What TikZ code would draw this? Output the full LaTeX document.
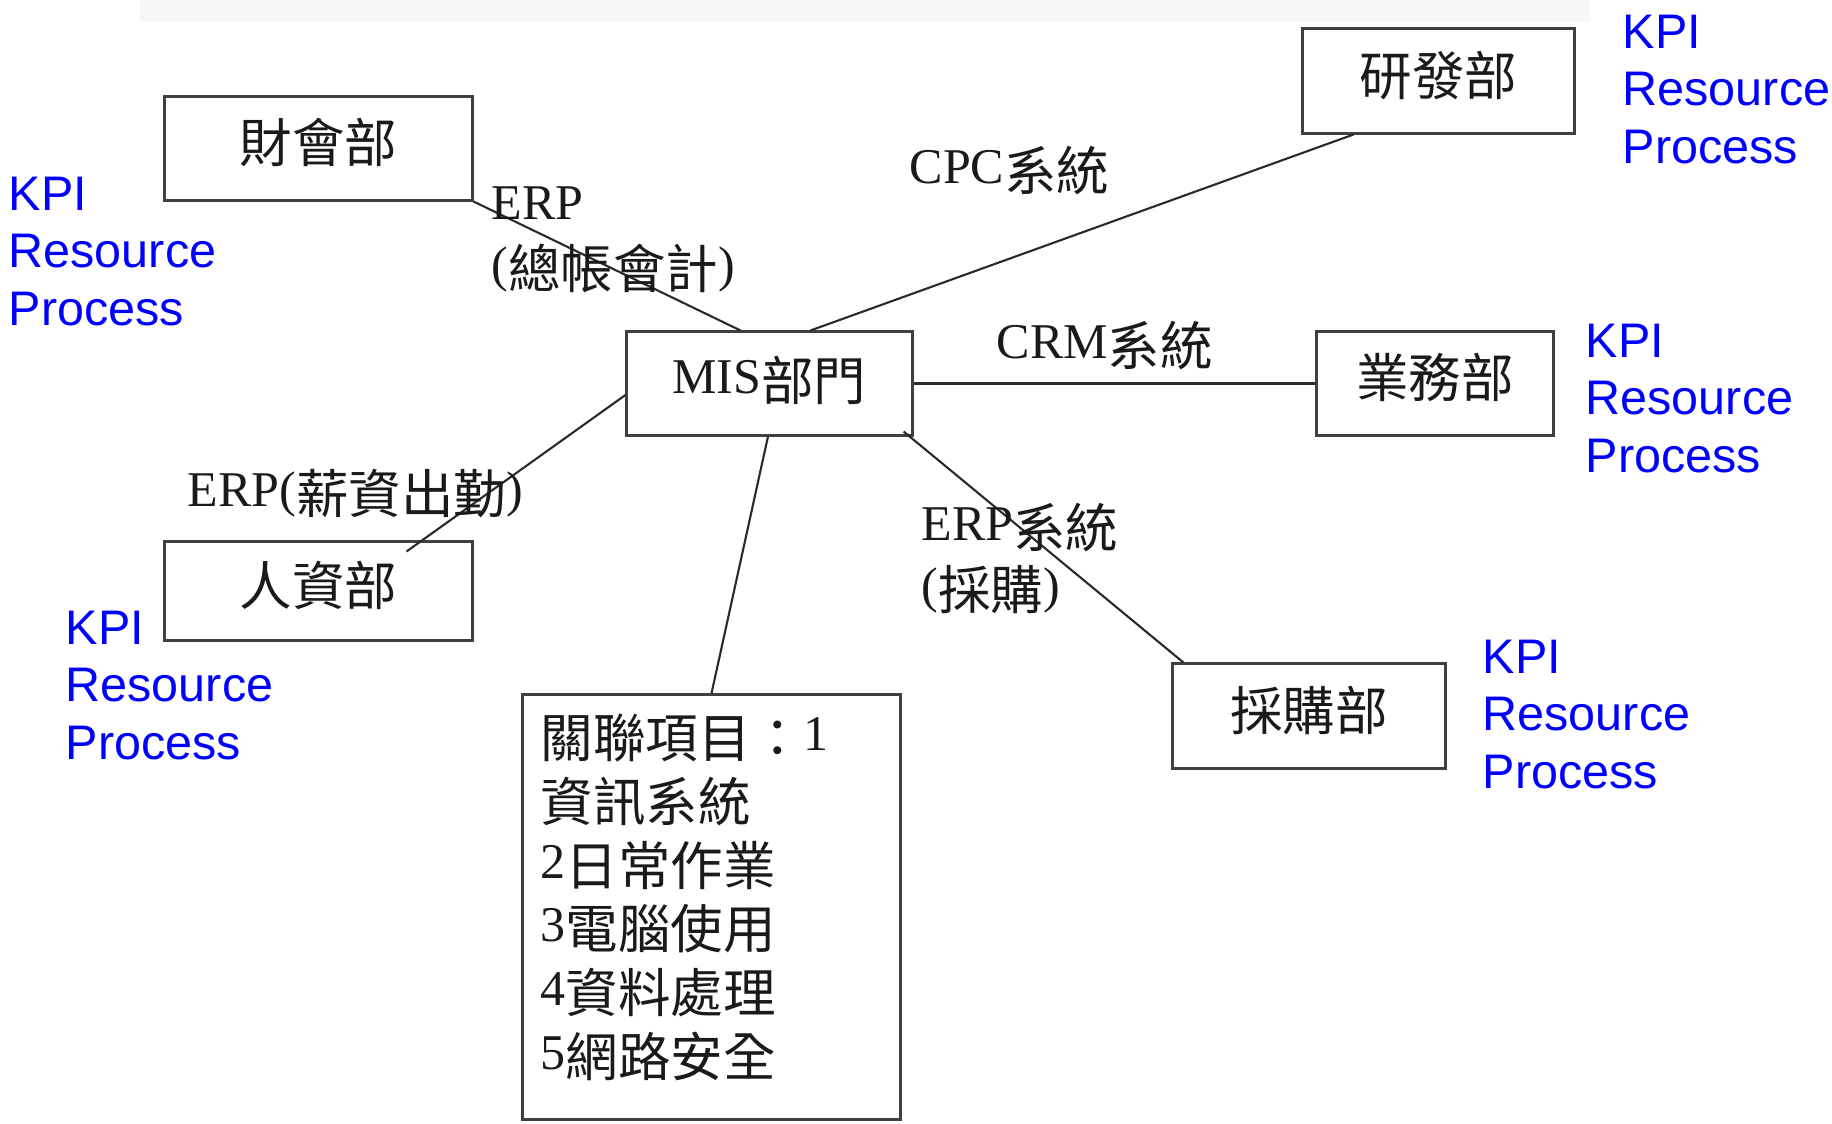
\documentclass[tikz,border=0pt]{standalone}
\usepackage{fontspec}
\setmainfont{Liberation Serif}
\setsansfont{Liberation Sans}
\newfontfamily\cjk{Noto Sans CJK TC}[Scale=1.05]
\newcommand\zh[1]{\raisebox{-0.07cm}{\cjk #1}}
\definecolor{txt}{HTML}{1A1A1A}
\definecolor{boxgray}{HTML}{404040}
\definecolor{linegray}{HTML}{2A2A2A}
\definecolor{kpiblue}{HTML}{0000FF}
\definecolor{band}{HTML}{F7F7F7}
\tikzset{
  dept/.style={draw=boxgray, line width=0.85pt, inner sep=0pt,
    text height=0.36cm, text depth=0.22cm, text=txt,
    font=\fontsize{0.5cm}{0.62cm}\selectfont},
  link/.style={draw=linegray, line width=0.6pt},
  lbl/.style={inner sep=0pt, anchor=base west, text=txt,
    font=\fontsize{0.5cm}{0.62cm}\selectfont},
  kpi/.style={inner sep=0pt, anchor=base west, text=kpiblue,
    font=\sffamily\fontsize{0.485cm}{0.575cm}\selectfont},
}
\newcommand\kpitext{\parbox[t]{3cm}{KPI\\Resource\\Process}}
\begin{document}
\begin{tikzpicture}[x=0.01cm,y=-0.01cm]
\useasboundingbox (0,0) rectangle (1832,1124);
\fill[band] (140,0) rectangle (1590,22);

% department boxes
\node[dept, minimum width=3.07cm, minimum height=1.03cm] (fin) at (318.5,148.5) {\zh{財會部}};
\node[dept, minimum width=2.71cm, minimum height=1.04cm] (rd) at (1438.5,81) {\zh{研發部}};
\node[dept, minimum width=2.85cm, minimum height=1.03cm, text height=0.38cm, text depth=0.19cm] (mis) at (769.5,383.5) {MIS\zh{部門}};
\node[dept, minimum width=2.36cm, minimum height=1.04cm] (sales) at (1435,383.5) {\zh{業務部}};
\node[dept, minimum width=3.07cm, minimum height=0.98cm] (hr) at (318.5,591) {\zh{人資部}};
\node[dept, minimum width=2.72cm, minimum height=1.04cm] (pur) at (1309,716) {\zh{採購部}};

% related items box
\node[draw=boxgray, line width=0.85pt, inner sep=0pt, text=txt,
  font=\fontsize{0.5cm}{0.636cm}\selectfont] (rel) at (711.5,907)
  {\parbox[c][4.24cm][t]{3.77cm}{\leftskip=0.18cm\vspace*{0.06cm}%
   \rule{0pt}{0.5cm}\zh{關聯項目：}1\\
   \zh{資訊系統}\\
   2\zh{日常作業}\\
   3\zh{電腦使用}\\
   4\zh{資料處理}\\
   5\zh{網路安全}}};

\coordinate (hrend) at ([xshift=-0.67cm,yshift=-0.11cm]hr.north east);

% connectors
\draw[link] (fin.south east) -- ([xshift=1.15cm]mis.north west);
\draw[link] ([xshift=1.85cm]mis.north west) -- ([xshift=0.52cm]rd.south west);
\draw[link] (mis.east) -- (sales.west);
\draw[link] ([yshift=-0.115cm]mis.west) -- (hrend);
\draw[link] ([xshift=-0.015cm]mis.south) -- (rel.north);
\draw[link] ([xshift=-0.1cm,yshift=0.05cm]mis.south east) -- ([xshift=0.12cm]pur.north west);

% connector labels
\node[lbl] (lfin) at (491,219) {\parbox[t]{3cm}{ERP\\(\zh{總帳會計})}};
\node[lbl] (lrd) at (909,183) {CPC\zh{系統}};
\node[lbl] (lsales) at (996,358) {CRM\zh{系統}};
\node[lbl] (lhr) at (187,506) {ERP(\zh{薪資出勤})};
\node[lbl] (lpur) at (921,540) {\parbox[t]{3cm}{ERP\zh{系統}\\(\zh{採購})}};

% KPI blocks
\node[kpi] (kfin) at (8,210) {\kpitext};
\node[kpi] (krd) at (1622,48) {\kpitext};
\node[kpi] (ksales) at (1585,357) {\kpitext};
\node[kpi] (kpur) at (1482,673) {\kpitext};
\node[kpi] (khr) at (65,644) {\kpitext};
\end{tikzpicture}
\end{document}
